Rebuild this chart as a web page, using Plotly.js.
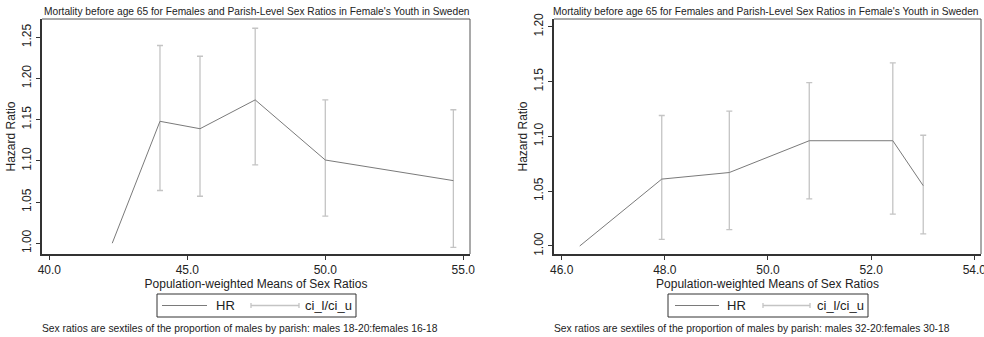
<!DOCTYPE html>
<html>
<head>
<meta charset="utf-8">
<script src="https://cdn.plot.ly/plotly-3.0.1.min.js"></script>
<style>html,body{margin:0;padding:0;background:#fff;}#chart{width:984px;height:337px;}</style>
</head>
<body>
<div id="chart"></div>
<script>
// ---- Data ----
const titleText = "Mortality before age 65 for Females and Parish-Level Sex Ratios in Female's Youth in Sweden";
const xTitle = "Population-weighted Means of Sex Ratios";
const yTitle = "Hazard Ratio";
const legendLabels = ["HR", "ci_l/ci_u"];

// Left panel: males 18-20 : females 16-18
const leftX   = [42.28, 44.01, 45.46, 47.46, 50.00, 54.64];
const leftHR  = [1.000, 1.148, 1.139, 1.174, 1.101, 1.076];
const leftLo  = [null,  1.064, 1.057, 1.095, 1.033, 0.995];
const leftHi  = [null,  1.240, 1.227, 1.261, 1.174, 1.162];
const leftXTicks = [40, 45, 50, 55];
const leftYTicks = [1.00, 1.05, 1.10, 1.15, 1.20, 1.25];
const leftNote = "Sex ratios are sextiles of the proportion of males by parish: males 18-20:females 16-18";

// Right panel: males 32-20 : females 30-18
const rightX  = [46.35, 47.94, 49.25, 50.80, 52.42, 53.01];
const rightHR = [1.000, 1.061, 1.067, 1.096, 1.096, 1.055];
const rightLo = [null,  1.006, 1.015, 1.043, 1.029, 1.011];
const rightHi = [null,  1.119, 1.123, 1.149, 1.167, 1.101];
const rightXTicks = [46, 48, 50, 52, 54];
const rightYTicks = [1.00, 1.05, 1.10, 1.15, 1.20];
const rightNote = "Sex ratios are sextiles of the proportion of males by parish: males 32-20:females 30-18";

// ---- Styling ----
const W = 984, H = 337;
const FONT = "Liberation Sans, Arial, sans-serif";
const HR_COLOR = "#7a7a7a";
const CI_COLOR = "#c4c4c4";
const AXIS_COLOR = "#333333";
const px = x => x / W;
const py = y => 1 - y / H;

function ciTrace(xs, hr, lo, hi, xa, ya) {
  const X = [], Y = [], up = [], dn = [];
  xs.forEach((x, i) => {
    if (lo[i] == null || hi[i] == null) return;
    X.push(x); Y.push(hr[i]); up.push(hi[i] - hr[i]); dn.push(hr[i] - lo[i]);
  });
  return {
    x: X, y: Y, xaxis: xa, yaxis: ya, type: 'scatter', mode: 'markers',
    marker: {size: 1, opacity: 0}, showlegend: false, hoverinfo: 'skip',
    error_y: {type: 'data', symmetric: false, array: up, arrayminus: dn,
              color: CI_COLOR, thickness: 1.3, width: 3}
  };
}
function hrTrace(xs, hr, xa, ya) {
  return {x: xs, y: hr, xaxis: xa, yaxis: ya, type: 'scatter', mode: 'lines',
          line: {color: HR_COLOR, width: 1}, showlegend: false};
}

const traces = [
  ciTrace(leftX, leftHR, leftLo, leftHi, 'x', 'y'),
  hrTrace(leftX, leftHR, 'x', 'y'),
  ciTrace(rightX, rightHR, rightLo, rightHi, 'x2', 'y2'),
  hrTrace(rightX, rightHR, 'x2', 'y2')
];

const yDom = [py(254), py(19)];
function xAxis(dom, range, ticks, anchor) {
  return {domain: dom, range: range, anchor: anchor, tickvals: ticks,
    ticktext: ticks.map(v => v.toFixed(1)), showgrid: false, zeroline: false,
    showline: true, linecolor: AXIS_COLOR, linewidth: 2, ticks: 'outside', ticklen: 4,
    tickcolor: AXIS_COLOR, tickwidth: 1, tickfont: {family: FONT, size: 12, color: '#222'},
    ticklabeloverflow: 'allow',
    title: {text: xTitle, font: {family: FONT, size: 12, color: '#222'}, standoff: 0}};
}
function yAxis(range, ticks, anchor) {
  return {domain: yDom, range: range, anchor: anchor, tickvals: ticks,
    ticktext: ticks.map(v => v.toFixed(2)), tickangle: -90, showgrid: false, zeroline: false,
    showline: true, linecolor: AXIS_COLOR, linewidth: 2, ticks: 'outside', ticklen: 4,
    tickcolor: AXIS_COLOR, tickwidth: 1, tickfont: {family: FONT, size: 12, color: '#222'},
    title: {text: yTitle, font: {family: FONT, size: 12, color: '#222'}, standoff: 2}};
}

const shapes = [];
const annotations = [];
function frame(x0, x1) {
  shapes.push({type: 'line', xref: 'paper', yref: 'paper', x0: px(x0), x1: px(x1), y0: py(19), y1: py(19), line: {color: '#555', width: 1}});
  shapes.push({type: 'line', xref: 'paper', yref: 'paper', x0: px(x1), x1: px(x1), y0: py(19), y1: py(254), line: {color: '#555', width: 1}});
}
function legend(bx0, bx1, lineX0, lineX1, hrX, ciX0, ciX1, ciTextX) {
  const yb0 = 294, yb1 = 317, ym = 305.5;
  shapes.push({type: 'rect', xref: 'paper', yref: 'paper', x0: px(bx0), x1: px(bx1), y0: py(yb1), y1: py(yb0), line: {color: '#333', width: 1}, fillcolor: 'rgba(0,0,0,0)'});
  shapes.push({type: 'line', xref: 'paper', yref: 'paper', x0: px(lineX0), x1: px(lineX1), y0: py(ym), y1: py(ym), line: {color: HR_COLOR, width: 1}});
  shapes.push({type: 'line', xref: 'paper', yref: 'paper', x0: px(ciX0), x1: px(ciX1), y0: py(ym), y1: py(ym), line: {color: CI_COLOR, width: 1.3}});
  shapes.push({type: 'line', xref: 'paper', yref: 'paper', x0: px(ciX0), x1: px(ciX0), y0: py(ym - 2.5), y1: py(ym + 2.5), line: {color: CI_COLOR, width: 1.3}});
  shapes.push({type: 'line', xref: 'paper', yref: 'paper', x0: px(ciX1), x1: px(ciX1), y0: py(ym - 2.5), y1: py(ym + 2.5), line: {color: CI_COLOR, width: 1.3}});
  annotations.push({xref: 'paper', yref: 'paper', x: px(hrX), y: py(ym), xanchor: 'left', yanchor: 'middle', showarrow: false, text: legendLabels[0], font: {family: FONT, size: 13, color: '#222'}});
  annotations.push({xref: 'paper', yref: 'paper', x: px(ciTextX), y: py(ym), xanchor: 'left', yanchor: 'middle', showarrow: false, text: legendLabels[1], font: {family: FONT, size: 13, color: '#222'}});
}
frame(42, 470);
frame(554, 981);
legend(157, 356, 162, 207, 214, 251, 299, 303);
legend(668, 868, 675, 719, 725, 763, 810, 815);

annotations.push({xref: 'paper', yref: 'paper', x: px(257), y: py(11.5), xanchor: 'center', yanchor: 'middle', showarrow: false, text: titleText, font: {family: FONT, size: 10.2, color: '#222'}});
annotations.push({xref: 'paper', yref: 'paper', x: px(766), y: py(11.5), xanchor: 'center', yanchor: 'middle', showarrow: false, text: titleText, font: {family: FONT, size: 10.2, color: '#222'}});
annotations.push({xref: 'paper', yref: 'paper', x: px(240), y: py(328), xanchor: 'center', yanchor: 'middle', showarrow: false, text: leftNote, font: {family: FONT, size: 10.3, color: '#222'}});
annotations.push({xref: 'paper', yref: 'paper', x: px(752), y: py(328), xanchor: 'center', yanchor: 'middle', showarrow: false, text: rightNote, font: {family: FONT, size: 10.3, color: '#222'}});

const layout = {
  width: W, height: H, margin: {l: 0, r: 0, t: 0, b: 0},
  paper_bgcolor: '#fff', plot_bgcolor: '#fff', showlegend: false,
  xaxis: xAxis([px(42), px(470)], [39.735, 55.243], leftXTicks, 'y'),
  yaxis: yAxis([0.9869, 1.2722], leftYTicks, 'x'),
  xaxis2: xAxis([px(554), px(981)], [45.851, 54.13], rightXTicks, 'y2'),
  yaxis2: yAxis([0.9927, 1.207], rightYTicks, 'x2'),
  shapes: shapes, annotations: annotations
};
Plotly.newPlot('chart', traces, layout, {staticPlot: true, displayModeBar: false});
</script>
</body>
</html>
